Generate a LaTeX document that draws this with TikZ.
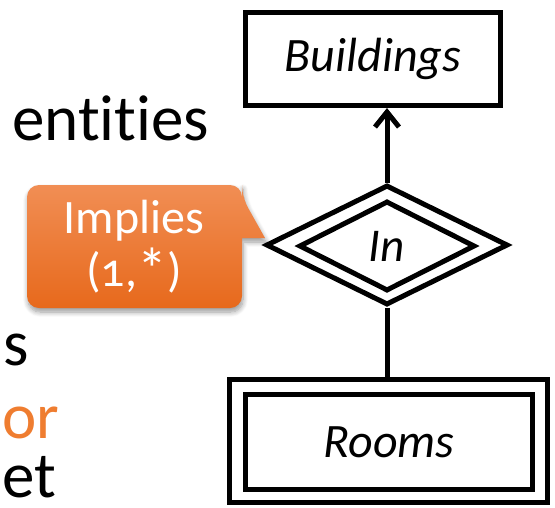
\documentclass[tikz,border=0pt]{standalone}
\usepackage{fontspec}
\setmainfont{Carlito}[Numbers=OldStyle, Ligatures=NoCommon]
\usetikzlibrary{shapes.geometric,arrows.meta,shadows.blur}

\definecolor{calloutTop}{RGB}{241,142,84}
\definecolor{calloutBot}{RGB}{231,105,28}
\definecolor{accent}{RGB}{239,125,48}

\begin{document}
\begin{tikzpicture}[x=1pt,y=-1pt,
  erline/.style={line width=5pt},
  entity/.style={draw, erline, rectangle, inner sep=0pt,
    font=\fontsize{48}{52}\selectfont\itshape},
  relation/.style={draw, erline, diamond, inner sep=0pt,
    font=\fontsize{47}{50}\selectfont\itshape},
  slidetext/.style={anchor=base west, inner sep=0pt,
    font=\fontsize{65}{70}\selectfont},
  link/.style={erline},
  callout/.style={top color=calloutTop, bottom color=calloutBot,
    blur shadow={shadow xshift=1pt, shadow yshift=-4pt,
      shadow blur radius=5pt, shadow blur steps=8}},
]
\useasboundingbox (0,0) rectangle (555,507);

% left-hand slide text
\node[slidetext] (ent) at (12,140) {entities};
\node[slidetext] (s) at (3,365) {s};
\node[slidetext, text=accent] (or) at (2,438) {or};
\node[slidetext] (et) at (2,497) {et};

% entity Buildings
\node[entity, minimum width=255pt, minimum height=93pt] (bld) at (373,59) {Buildings};

% identifying relationship In (double diamond)
\node[relation, minimum width=242pt, minimum height=120pt] (in) at (387,245) {};
\node[relation, minimum width=176pt, minimum height=90pt] (inInner) at (387,246) {In};

% weak entity Rooms (double rectangle)
\node[entity, minimum width=318pt, minimum height=123pt] (rooms) at (388.5,441) {};
\node[entity, minimum width=287pt, minimum height=95pt] (roomsInner) at (389,442) {Rooms};

% connectors
\draw[link, -{Straight Barb[length=15pt,width=24pt]}] (in.north) -- (in.north |- bld.south);
\draw[link] (in.south) -- (in.south |- rooms.north);

% orange callout
\path[callout] (27,246) [rounded corners=12pt] -- (27,185) -- (242,185) -- (242,197)
  [sharp corners] -- (265,238) -- (242,238) [rounded corners=12pt] -- (242,308)
  -- (27,308) -- cycle;
\node[text=white, font=\fontsize{48}{53}\selectfont, align=center, inner sep=0pt]
  (note) at (134,247) {Implies\\(1,{\raisebox{-4pt}{\fontsize{60}{60}\selectfont*}})};
\end{tikzpicture}
\end{document}
